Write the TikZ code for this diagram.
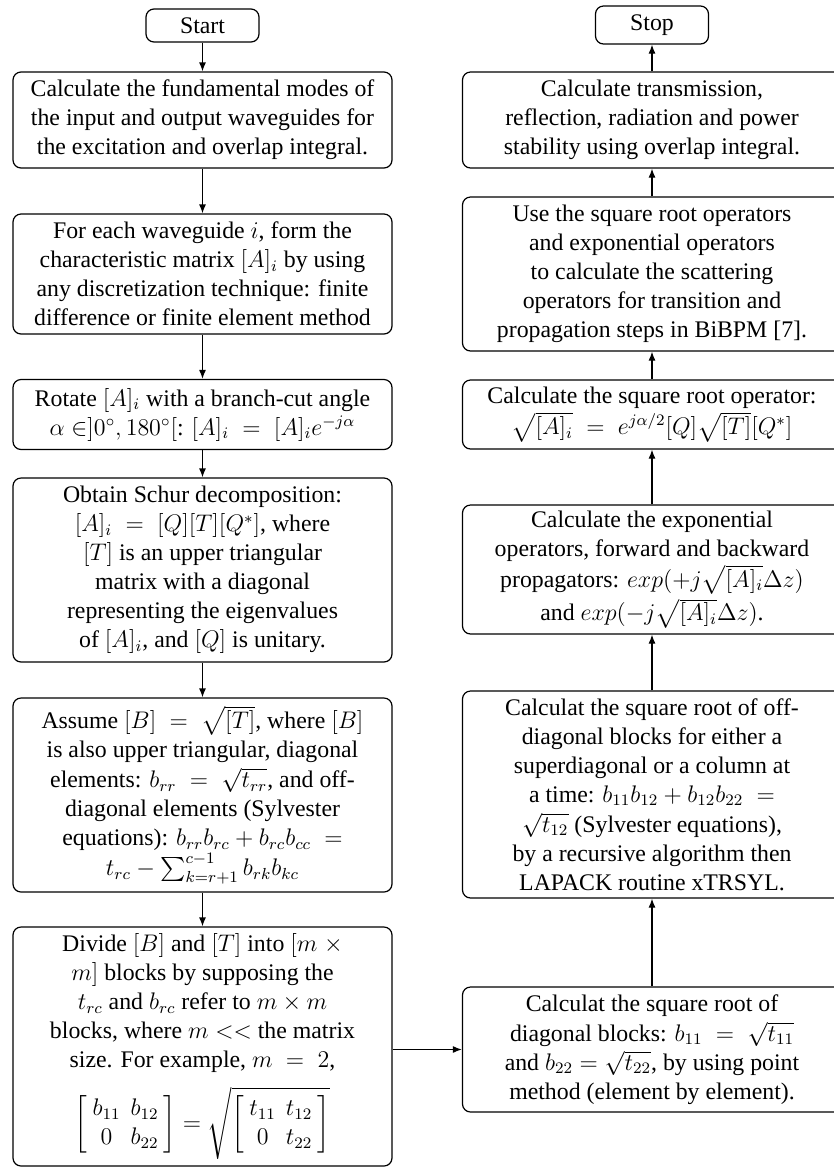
\documentclass[tikz,border=0pt]{standalone}
\usepackage{fontspec}
\setmainfont{Liberation Serif}
\usepackage{amsmath}
\usetikzlibrary{arrows.meta}

\begin{document}
\begin{tikzpicture}[
            x = 0.5pt, y = -0.5pt,
            > = {Latex[length=4.5pt,width=3.5pt]},
  block/.style = {draw, line width=0.6pt, rounded corners=4pt, align=center,
                  minimum width=189.5pt, inner sep=2pt,
                  font=\fontsize{11.9}{14.5}\selectfont},
   term/.style = {draw, line width=0.6pt, rounded corners=4pt,
                  minimum width=56.5pt, font=\fontsize{11.9}{14.5}\selectfont},
   flow/.style = {->, line width=0.6pt}
                        ]
\useasboundingbox (0,0) rectangle (834,1169);
% left column
\node[term, minimum height=16.5pt] (start) at (202.5,25.5) {Start};
\node[block, minimum height=48pt] (L1) at (202.5,120) {Calculate the fundamental modes of\\ the input and output waveguides for\\ the excitation and overlap integral.};
\node[block, minimum height=60pt] (L2) at (202.5,274) {For each waveguide $i$, form the\\ characteristic matrix $[A]_i$ by using\\ any discretization technique: finite\\ difference or finite element method};
\node[block, minimum height=35pt] (L3) at (202.5,414.5) {Rotate $[A]_i$ with a branch-cut angle\\ $\alpha \in ]0^\circ, 180^\circ[$: $[A]_i \;=\; [A]_i e^{-j\alpha}$};
\node[block, minimum height=92pt] (L4) at (202.5,570) {Obtain Schur decomposition:\\ $[A]_i \;=\; [Q][T][Q^*]$, where\\ $[T]$ is an upper triangular\\ matrix with a diagonal\\ representing the eigenvalues\\ of $[A]_i$, and $[Q]$ is unitary.};
\node[block, minimum height=97pt] (L5) at (202.5,795) {Assume $[B] \;=\; \sqrt{[T]}$, where $[B]$\\ is also upper triangular, diagonal\\[0.5pt] elements: $b_{rr} \;=\; \sqrt{t_{rr}}$, and off-\\ diagonal elements (Sylvester\\ equations): $b_{rr}b_{rc} + b_{rc}b_{cc} \;=$\\[0.5pt] $t_{rc} - \sum_{k=r+1}^{c-1} b_{rk}b_{kc}$};
\node[block, minimum height=119.5pt] (L6) at (202.5,1046.5) {Divide $[B]$ and $[T]$ into $[m \;\times$\\ $m]$ blocks by supposing the\\ $t_{rc}$ and $b_{rc}$ refer to $m \times m$\\ blocks, where $m <<$ the matrix\\ size. For example, $m \;=\; 2$,\\[6pt]
  $\arraycolsep=2.5pt\left[\begin{array}{cc} b_{11} & b_{12}\\ 0 & b_{22}\end{array}\right] = \sqrt{\left[\begin{array}{cc} t_{11} & t_{12}\\ 0 & t_{22}\end{array}\right]}$};
% right column
\node[term, minimum height=19pt] (stop) at (652,25) {Stop};
\node[block, minimum height=48pt] (R1) at (652,120) {Calculate transmission,\\ reflection, radiation and power\\ stability using overlap integral.};
\node[block, minimum height=77pt] (R2) at (652,274) {Use the square root operators\\ and exponential operators\\ to calculate the scattering\\ operators for transition and\\ propagation steps in BiBPM [7].};
\node[block, minimum height=34.5pt] (R3) at (652,414.5) {Calculate the square root operator:\\[1pt] $\sqrt{[A]_i} \;=\; e^{j\alpha/2}[Q]\sqrt{[T]}[Q^*]$};
\node[block, minimum height=64.5pt] (R4) at (652,569.5) {Calculate the exponential\\ operators, forward and backward\\[1pt] propagators: $exp(+j\sqrt{[A]_i}\Delta z)$\\[1pt] and $exp(-j\sqrt{[A]_i}\Delta z)$.};
\node[block, minimum height=103.5pt] (R5) at (652,794.5) {Calculat the square root of off-\\ diagonal blocks for either a\\ superdiagonal or a column at\\ a time: $b_{11}b_{12} + b_{12}b_{22} \;=$\\[0.5pt] $\sqrt{t_{12}}$ (Sylvester equations),\\ by a recursive algorithm then\\ LAPACK routine xTRSYL.};
\node[block, minimum height=62.5pt] (R6) at (652,1049.5) {Calculat the square root of\\[0.5pt] diagonal blocks: $b_{11} \;=\; \sqrt{t_{11}}$\\ and $b_{22} = \sqrt{t_{22}}$, by using point\\ method (element by element).};
% arrows
\draw[flow] (start) -- (L1);
\draw[flow] (L1) -- (L2);
\draw[flow] (L2) -- (L3);
\draw[flow] (L3) -- (L4);
\draw[flow] (L4) -- (L5);
\draw[flow] (L5) -- (L6);
\draw[flow] (L6.east |- R6.west) -- (R6.west);
\draw[flow] (R6) -- (R5);
\draw[flow] (R5) -- (R4);
\draw[flow] (R4) -- (R3);
\draw[flow] (R3) -- (R2);
\draw[flow] (R2) -- (R1);
\draw[flow] (R1) -- (stop);
\end{tikzpicture}
\end{document}
